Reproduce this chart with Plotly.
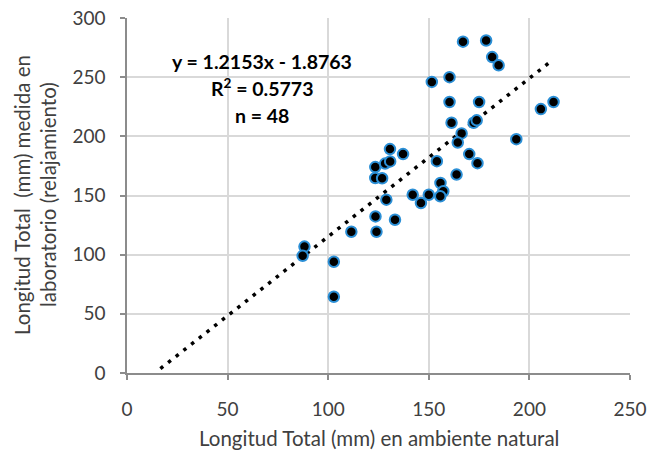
import plotly.graph_objects as go

# Data
x_natural = [167.0, 178.5, 181.5, 184.7, 151.5, 160.3, 160.3, 175.0, 205.7, 212.0,
             161.3, 172.3, 173.8, 166.3, 164.4, 193.5, 130.7, 137.2, 154.0, 170.1,
             174.2, 123.4, 128.3, 130.8, 123.4, 126.8, 163.8, 155.8, 157.2, 155.7,
             142.0, 150.0, 146.1, 128.9, 123.5, 133.2, 111.5, 124.0, 88.2, 87.3,
             102.8, 102.8]
y_lab = [280, 281, 267, 260, 246, 250, 229, 229, 223, 229,
         211.5, 211.5, 213.5, 202.5, 194.8, 197.6, 189.2, 185, 179, 185,
         177.3, 174, 177, 178.8, 164.8, 164.6, 167.7, 160.6, 153.6, 149.4,
         150.6, 150.6, 143.6, 146.5, 132.3, 129.5, 119.4, 119.4, 106.8, 99,
         94, 64.4]

# Trend line ends as drawn in the reference
trend_x = [16.6, 209.6]
trend_y = [3.7, 261.9]

x_ticks = [0, 50, 100, 150, 200, 250]
y_ticks = [0, 50, 100, 150, 200, 250, 300]

eq_lines = ["y = 1.2153x - 1.8763", "R<sup>2</sup> = 0.5773", "n = 48"]
x_title = "Longitud Total (mm) en ambiente natural"
y_title_lines = ["Longitud Total  (mm) medida en", "laboratorio (relajamiento)"]

FONT = "Lato"
TXT = "#404040"

fig = go.Figure()
fig.add_trace(go.Scatter(
    x=trend_x, y=trend_y, mode="lines",
    line=dict(color="black", width=3.5, dash="3.5px,6.3px"),
    hoverinfo="skip", showlegend=False))
fig.add_trace(go.Scatter(
    x=x_natural, y=y_lab, mode="markers",
    marker=dict(size=10.5, color="black", line=dict(color="#2b8fd6", width=2)),
    showlegend=False))

W, H = 659, 450
L, R, T, B = 127, 29, 18, 77
pw, ph = W - L - R, H - T - B

fig.update_layout(
    width=W, height=H,
    margin=dict(l=L, r=R, t=T, b=B, autoexpand=False),
    paper_bgcolor="white", plot_bgcolor="white",
    font=dict(family=FONT, size=18, color=TXT),
)
fig.update_xaxes(
    range=[0, 250], tickvals=x_ticks, ticktext=[str(v) for v in x_ticks],
    showgrid=True, gridcolor="#d9d9d9", gridwidth=2,
    showline=True, linecolor="#8c8c8c", linewidth=1.5,
    ticks="outside", ticklen=5, tickcolor="#8c8c8c", tickwidth=1.5,
    zeroline=False, ticklabelstandoff=13,
    tickfont=dict(family=FONT, size=19, color=TXT),
)
fig.update_yaxes(
    range=[0, 300], tickvals=y_ticks, ticktext=[str(v) for v in y_ticks],
    showgrid=True, gridcolor="#d9d9d9", gridwidth=2,
    showline=True, linecolor="#8c8c8c", linewidth=1.5,
    ticks="outside", ticklen=5, tickcolor="#8c8c8c", tickwidth=1.5,
    zeroline=False, ticklabelstandoff=11,
    tickfont=dict(family=FONT, size=19, color=TXT),
)

def px_x(px):
    return (px - L) / pw

def px_y(py):
    return 1 - (py - T) / ph

# Equation block
for txt, cy in zip(eq_lines, [61.7, 87.7, 115]):
    fig.add_annotation(x=px_x(262), y=px_y(cy), xref="paper", yref="paper",
                       text="<b>" + txt + "</b>", showarrow=False,
                       xanchor="center", yanchor="middle",
                       font=dict(family=FONT, size=19.5, color="black"))

# Axis titles
fig.add_annotation(x=px_x(379), y=px_y(438), xref="paper", yref="paper",
                   text=x_title, showarrow=False, xanchor="center", yanchor="middle",
                   font=dict(family=FONT, size=20.5, color=TXT))
for txt, cx in zip(y_title_lines, [22, 48]):
    fig.add_annotation(x=px_x(cx), y=px_y(195), xref="paper", yref="paper",
                       text=txt, showarrow=False, textangle=-90,
                       xanchor="center", yanchor="middle",
                       font=dict(family=FONT, size=20.5, color=TXT))

fig.write_html("out.html")
